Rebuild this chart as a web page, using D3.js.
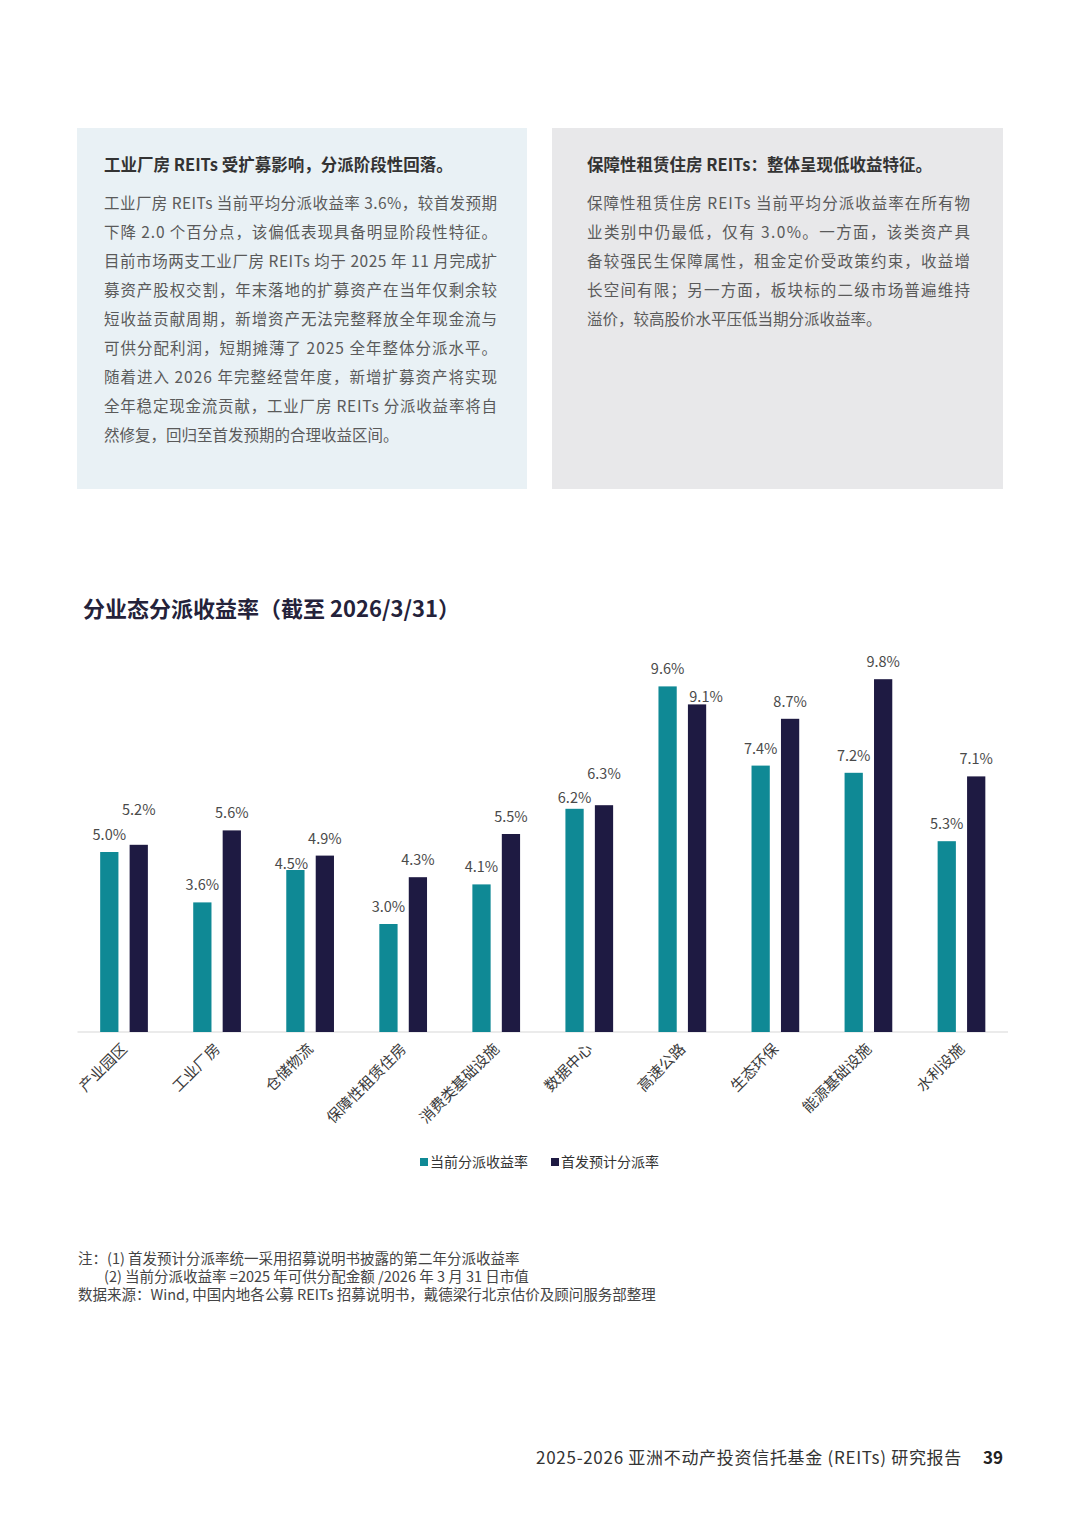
<!DOCTYPE html>
<html>
<head>
<meta charset="utf-8">
<script src="https://cdn.jsdelivr.net/npm/d3@7"></script>
<style>
  html, body { margin: 0; padding: 0; background: #fff; }
  svg { display: block; font-family: "Noto Sans CJK SC", "Noto Sans", sans-serif; }
</style>
</head>
<body>
<div id="page"></div>
<script>
// ===== data =====
const categories = ["产业园区", "工业厂房", "仓储物流", "保障性租赁住房", "消费类基础设施",
  "数据中心", "高速公路", "生态环保", "能源基础设施", "水利设施"]
const currentYield = [5.0, 3.6, 4.5, 3.0, 4.1, 6.2, 9.6, 7.4, 7.2, 5.3]
const ipoYield = [5.2, 5.6, 4.9, 4.3, 5.5, 6.3, 9.1, 8.7, 9.8, 7.1]
const seriesKeys = ["cur", "ipo"]
const seriesNames = ["当前分派收益率", "首发预计分派率"]

const chartTitle = "分业态分派收益率（截至 2026/3/31）"

const leftTitle = "工业厂房 REITs 受扩募影响，分派阶段性回落。"
const leftLines = [
  "工业厂房 REITs 当前平均分派收益率 3.6%，较首发预期",
  "下降 2.0 个百分点，该偏低表现具备明显阶段性特征。",
  "目前市场两支工业厂房 REITs 均于 2025 年 11 月完成扩",
  "募资产股权交割，年末落地的扩募资产在当年仅剩余较",
  "短收益贡献周期，新增资产无法完整释放全年现金流与",
  "可供分配利润，短期摊薄了 2025 全年整体分派水平。",
  "随着进入 2026 年完整经营年度，新增扩募资产将实现",
  "全年稳定现金流贡献，工业厂房 REITs 分派收益率将自",
  "然修复，回归至首发预期的合理收益区间。"
]
const rightTitle = "保障性租赁住房 REITs：整体呈现低收益特征。"
const rightLines = [
  "保障性租赁住房 REITs 当前平均分派收益率在所有物",
  "业类别中仍最低，仅有 3.0%。一方面，该类资产具",
  "备较强民生保障属性，租金定价受政策约束，收益增",
  "长空间有限；另一方面，板块标的二级市场普遍维持",
  "溢价，较高股价水平压低当期分派收益率。"
]
const notes = [
  "注：(1) 首发预计分派率统一采用招募说明书披露的第二年分派收益率",
  "(2) 当前分派收益率 =2025 年可供分配金额 /2026 年 3 月 31 日市值",
  "数据来源：Wind, 中国内地各公募 REITs 招募说明书，戴德梁行北京估价及顾问服务部整理"
]
const footerText = "2025-2026 亚洲不动产投资信托基金 (REITs) 研究报告"
const pageNumber = "39"

// ===== style =====
const teal = "#0f8995"
const navy = "#1e1a42"
const W = 1080, H = 1527

// hand-moved data labels in the original (dx, dy)
const labelNudge = {
  "产业园区|ipo": [0, -18],
  "仓储物流|cur": [-4, 11],
  "数据中心|cur": [0, 6],
  "数据中心|ipo": [0, -14],
  "高速公路|ipo": [9, 10]
}

const svg = d3.select("#page").append("svg")
  .attr("width", W).attr("height", H)

// ===== text boxes =====
function textBox(x, y, w, h, pad, fill, title, lines, justifyWidth) {
  const g = svg.append("g")
  g.append("rect").attr("x", x).attr("y", y).attr("width", w).attr("height", h).attr("fill", fill)
  g.append("text")
    .attr("x", x + pad).attr("y", y + 43)
    .attr("font-size", 16.5).attr("font-weight", 700).attr("fill", "#333")
    .text(title)
  g.selectAll("text.body").data(lines).join("text")
    .attr("class", "body")
    .attr("x", x + pad)
    .attr("y", (d, i) => y + 81 + i * 29)
    .attr("font-size", 15.5).attr("fill", "#5a5a5a")
    .attr("textLength", (d, i) => i < lines.length - 1 ? justifyWidth : null)
    .attr("lengthAdjust", "spacing")
    .text(d => d)
}
textBox(77, 128, 450, 361, 27, "#e9f1f5", leftTitle, leftLines, 393)
textBox(552, 128, 451, 361, 35, "#e8e8ea", rightTitle, rightLines, 383)

// ===== chart =====
svg.append("text")
  .attr("x", 83).attr("y", 617)
  .attr("font-size", 22).attr("font-weight", 700).attr("fill", "#24223a")
  .text(chartTitle)

const rows = categories.map((c, i) => ({cat: c, cur: currentYield[i], ipo: ipoYield[i]}))

const x0 = d3.scaleBand().domain(categories).range([77.5, 1008])
const x1 = d3.scaleBand().domain(seriesKeys).range([0, x0.bandwidth()])
  .paddingInner(0.38).paddingOuter(0.77)
const y = d3.scaleLinear().domain([0, 10]).range([1032, 672])
const color = d3.scaleOrdinal().domain(seriesKeys).range([teal, navy])

// baseline
svg.append("line")
  .attr("x1", x0.range()[0]).attr("x2", x0.range()[1])
  .attr("y1", y(0)).attr("y2", y(0))
  .attr("stroke", "#e4e4e4").attr("stroke-width", 1.5)

const groups = svg.append("g").selectAll("g").data(rows).join("g")
  .attr("transform", d => `translate(${x0(d.cat)},0)`)

const cells = groups.selectAll("g").data(d => seriesKeys.map(k => ({cat: d.cat, key: k, value: d[k]})))
  .join("g")

cells.append("rect")
  .attr("x", d => x1(d.key))
  .attr("width", x1.bandwidth())
  .attr("y", d => y(d.value))
  .attr("height", d => y(0) - y(d.value))
  .attr("fill", d => color(d.key))

cells.append("text")
  .attr("x", d => x1(d.key) + x1.bandwidth() / 2 + (labelNudge[d.cat + "|" + d.key] || [0, 0])[0])
  .attr("y", d => y(d.value) - 12 + (labelNudge[d.cat + "|" + d.key] || [0, 0])[1])
  .attr("text-anchor", "middle")
  .attr("font-size", 14.5).attr("fill", "#4a4a4a")
  .text(d => d.value.toFixed(1) + "%")

// category axis labels, rotated
svg.append("g").selectAll("text").data(categories).join("text")
  .attr("transform", d => `translate(${x0(d) + x0.bandwidth() / 2 + 4},${y(0) + 18}) rotate(-45)`)
  .attr("text-anchor", "end")
  .attr("font-size", 15).attr("fill", "#3a3a3a")
  .text(d => d)

// legend
const legendX = [420, 551]
const legend = svg.append("g").selectAll("g").data(seriesKeys).join("g")
  .attr("transform", (d, i) => `translate(${legendX[i]},1158)`)
legend.append("rect").attr("width", 8).attr("height", 8).attr("fill", d => color(d))
legend.append("text")
  .attr("x", 10).attr("y", 9)
  .attr("font-size", 14).attr("fill", "#333")
  .text((d, i) => seriesNames[i])

// notes
svg.append("g").selectAll("text").data(notes).join("text")
  .attr("x", (d, i) => i === 1 ? 104 : 78)
  .attr("y", (d, i) => 1264 + i * 18)
  .attr("font-size", 14.5).attr("fill", "#444")
  .text(d => d)

// footer
svg.append("text")
  .attr("x", 962).attr("y", 1464)
  .attr("text-anchor", "end")
  .attr("font-size", 17).attr("fill", "#333")
  .attr("letter-spacing", 0.7)
  .text(footerText)
svg.append("text")
  .attr("x", 1003).attr("y", 1464)
  .attr("text-anchor", "end")
  .attr("font-size", 17).attr("font-weight", 700).attr("fill", "#222")
  .text(pageNumber)
</script>
</body>
</html>
